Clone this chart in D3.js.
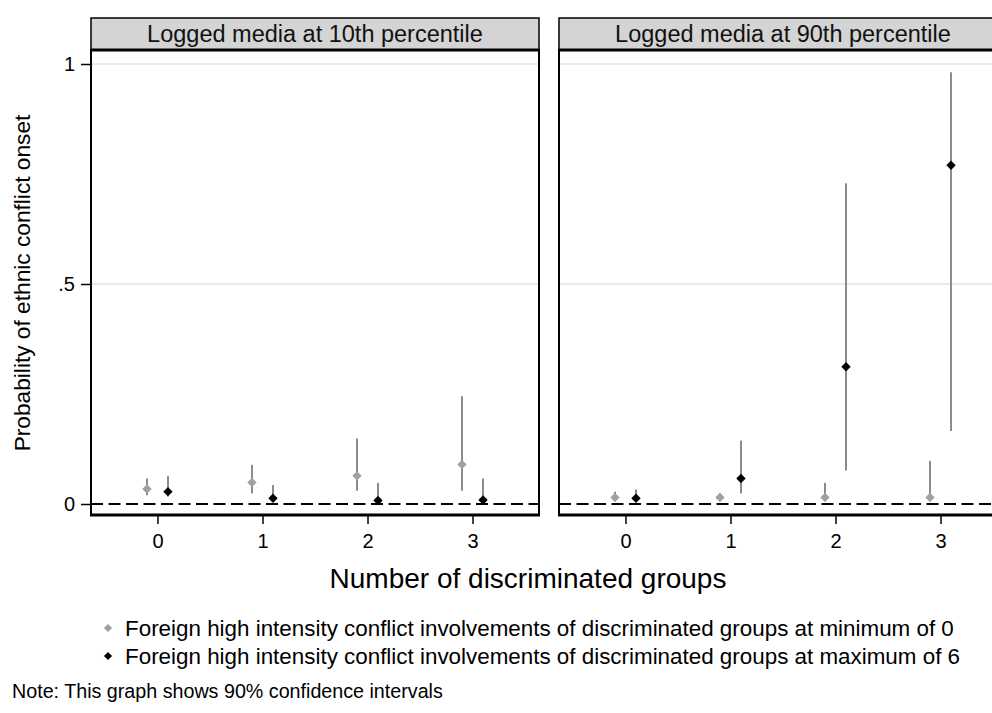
<!DOCTYPE html>
<html>
<head>
<meta charset="utf-8">
<script src="https://cdn.jsdelivr.net/npm/d3@7"></script>
<style>
  body { margin: 0; background: #fff; }
  svg { display: block; font-family: "Liberation Sans", Arial, sans-serif; }
</style>
</head>
<body>
<div id="chart"></div>
<script>
// number of discriminated groups
var groups = [0, 1, 2, 3];
var panelTitles = ["Logged media at 10th percentile", "Logged media at 90th percentile"];
var seriesLabels = [
  "Foreign high intensity conflict involvements of discriminated groups at minimum of 0",
  "Foreign high intensity conflict involvements of discriminated groups at maximum of 6"
];
var yTicks = [0, 0.5, 1];
var yTickLabels = ["0", ".5", "1"];

// media at 10th percentile
var lowMinEst = [0.034, 0.049, 0.064, 0.090];
var lowMinLo  = [0.020, 0.024, 0.030, 0.030];
var lowMinHi  = [0.058, 0.089, 0.149, 0.245];
var lowMaxEst = [0.028, 0.013, 0.008, 0.009];
var lowMaxLo  = [0.017, 0.005, 0.002, 0.002];
var lowMaxHi  = [0.064, 0.043, 0.048, 0.058];

// media at 90th percentile
var highMinEst = [0.015, 0.015, 0.015, 0.015];
var highMinLo  = [0.006, 0.006, 0.006, 0.006];
var highMinHi  = [0.028, 0.025, 0.048, 0.098];
var highMaxEst = [0.013, 0.058, 0.312, 0.770];
var highMaxLo  = [0.004, 0.024, 0.076, 0.166];
var highMaxHi  = [0.033, 0.144, 0.729, 0.981];

var width = 992, height = 713;
var panelLeft = [91, 559], panelWidth = 448;
var headerTop = 18, plotTop = 50, plotBottom = 515;
var offsets = [-0.1, 0.1];
var colors = ["#a0a0a0", "#000000"];

var svg = d3.select("#chart").append("svg")
  .attr("width", width)
  .attr("height", height);

var y = d3.scaleLinear().domain([0, 1]).range([504, 64]);

var panelData = [
  [[lowMinEst, lowMinLo, lowMinHi], [lowMaxEst, lowMaxLo, lowMaxHi]],
  [[highMinEst, highMinLo, highMinHi], [highMaxEst, highMaxLo, highMaxHi]]
];

var diamond = d3.symbol().type(d3.symbolSquare).size(44);

panelTitles.forEach(function(title, p) {
  var left = panelLeft[p];
  var x = d3.scaleLinear().domain([-0.633, 3.633]).range([left, left + panelWidth]);
  var g = svg.append("g");

  // gridlines
  g.selectAll(".grid")
    .data([0.5, 1])
    .enter().append("line")
    .attr("x1", left).attr("x2", left + panelWidth)
    .attr("y1", function(d) { return y(d); })
    .attr("y2", function(d) { return y(d); })
    .attr("stroke", "#e4e4e4")
    .attr("stroke-width", 1.5);

  // reference line at zero
  g.append("line")
    .attr("x1", left).attr("x2", left + panelWidth)
    .attr("y1", y(0)).attr("y2", y(0))
    .attr("stroke", "#000")
    .attr("stroke-width", 2)
    .attr("stroke-dasharray", "12,5.5");

  // confidence intervals and point estimates
  panelData[p].forEach(function(s, k) {
    var est = s[0], lo = s[1], hi = s[2];
    g.selectAll(".ci" + k)
      .data(groups)
      .enter().append("line")
      .attr("x1", function(d) { return x(d + offsets[k]); })
      .attr("x2", function(d) { return x(d + offsets[k]); })
      .attr("y1", function(d, i) { return y(lo[i]); })
      .attr("y2", function(d, i) { return y(hi[i]); })
      .attr("stroke", "#8c8c8c")
      .attr("stroke-width", 2);

    g.selectAll(".pt" + k)
      .data(groups)
      .enter().append("path")
      .attr("d", diamond)
      .attr("transform", function(d, i) {
        return "translate(" + x(d + offsets[k]) + "," + y(est[i]) + ") rotate(45)";
      })
      .attr("fill", colors[k]);
  });

  // plot frame
  g.append("rect")
    .attr("x", left).attr("y", plotTop)
    .attr("width", panelWidth).attr("height", plotBottom - plotTop)
    .attr("fill", "none")
    .attr("stroke", "#000")
    .attr("stroke-width", 2);
  g.append("line")
    .attr("x1", left - 1).attr("x2", left + panelWidth + 1)
    .attr("y1", plotBottom).attr("y2", plotBottom)
    .attr("stroke", "#000").attr("stroke-width", 3);

  // header strip
  g.append("rect")
    .attr("x", left).attr("y", headerTop)
    .attr("width", panelWidth).attr("height", plotTop - headerTop)
    .attr("fill", "#d4d4d4")
    .attr("stroke", "#000")
    .attr("stroke-width", 1.5);
  g.append("line")
    .attr("x1", left).attr("x2", left + panelWidth)
    .attr("y1", plotTop).attr("y2", plotTop)
    .attr("stroke", "#000").attr("stroke-width", 3);
  g.append("text")
    .attr("x", left + panelWidth / 2)
    .attr("y", 42)
    .attr("text-anchor", "middle")
    .attr("font-size", 23.5)
    .attr("fill", "#111")
    .text(title);

  // x axis
  var xAxis = g.append("g")
    .attr("transform", "translate(0," + (plotBottom + 1) + ")")
    .call(d3.axisBottom(x).tickValues(groups).tickSize(8).tickPadding(10).tickFormat(d3.format("d")));
  xAxis.select(".domain").remove();
  xAxis.selectAll("line").attr("stroke-width", 1.5);
  xAxis.selectAll("text").attr("font-size", 20).attr("font-family", "Liberation Sans, Arial, sans-serif").attr("fill", "#000");

  if (p === 0) {
    var yAxis = g.append("g")
      .attr("transform", "translate(" + left + ",0)")
      .call(d3.axisLeft(y).tickValues(yTicks).tickSize(10).tickPadding(6)
        .tickFormat(function(d, i) { return yTickLabels[i]; }));
    yAxis.select(".domain").remove();
    yAxis.selectAll("line").attr("stroke-width", 1.5);
    yAxis.selectAll("text").attr("font-size", 20).attr("font-family", "Liberation Sans, Arial, sans-serif").attr("fill", "#000");
  }
});

// axis titles
svg.append("text")
  .attr("transform", "translate(30,283) rotate(-90)")
  .attr("text-anchor", "middle")
  .attr("font-size", 22.7)
  .text("Probability of ethnic conflict onset");

svg.append("text")
  .attr("x", 528)
  .attr("y", 588)
  .attr("text-anchor", "middle")
  .attr("font-size", 28)
  .text("Number of discriminated groups");

// legend
var legend = svg.selectAll(".legend")
  .data(seriesLabels)
  .enter().append("g")
  .attr("transform", function(d, i) { return "translate(108," + (628 + i * 28) + ")"; });
legend.append("path")
  .attr("d", d3.symbol().type(d3.symbolSquare).size(34))
  .attr("transform", "rotate(45)")
  .attr("fill", function(d, i) { return colors[i]; });
legend.append("text")
  .attr("x", 17)
  .attr("y", 8)
  .attr("font-size", 22.4)
  .text(function(d) { return d; });

svg.append("text")
  .attr("x", 12)
  .attr("y", 698)
  .attr("font-size", 19.7)
  .text("Note: This graph shows 90% confidence intervals");
</script>
</body>
</html>
